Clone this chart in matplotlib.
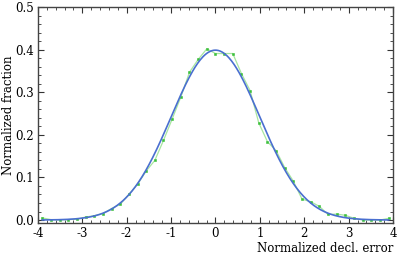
import numpy as np
import matplotlib
matplotlib.use("Agg")
import matplotlib.pyplot as plt
from matplotlib.ticker import MultipleLocator, FuncFormatter

# Bin centers (normalized decl. error)
bin_centers = [-3.902, -3.707, -3.512, -3.317, -3.122, -2.927, -2.732, -2.537, -2.341,
               -2.146, -1.951, -1.756, -1.561, -1.366, -1.171, -0.976, -0.780, -0.585,
               -0.390, -0.195, 0.000, 0.195, 0.390, 0.585, 0.780, 0.976, 1.171, 1.366,
               1.561, 1.756, 1.951, 2.146, 2.341, 2.537, 2.732, 2.927, 3.122, 3.317,
               3.512, 3.707, 3.902]
# Normalized fraction per bin (histogram)
fractions = [0.005, 0.001, 0.000, 0.001, 0.002, 0.007, 0.010, 0.015, 0.027,
             0.037, 0.060, 0.084, 0.115, 0.140, 0.187, 0.237, 0.289, 0.347,
             0.377, 0.402, 0.391, 0.391, 0.391, 0.344, 0.304, 0.228, 0.184, 0.163,
             0.123, 0.091, 0.049, 0.043, 0.032, 0.013, 0.014, 0.011, 0.004, 0.000,
             0.000, 0.000, 0.004]
# Gaussian model parameters
gauss_mu = 0.0
gauss_sigma = 1.0

plt.rcParams['font.family'] = ['DejaVu Serif']
plt.rcParams['mathtext.fontset'] = 'dejavuserif'

fig = plt.figure(figsize=(3.99, 2.54), dpi=100)
ax = fig.add_axes([0.095, 0.122, 0.89, 0.850])

xs = np.linspace(bin_centers[0], bin_centers[-1], 400)
ys = np.exp(-0.5 * ((xs - gauss_mu) / gauss_sigma) ** 2) / (gauss_sigma * np.sqrt(2 * np.pi))

ax.plot(bin_centers, fractions, color='#a8e6a0', lw=0.9, zorder=2)
ax.plot(bin_centers, fractions, ls='none', marker='s', ms=1.5, color='#3cc03c',
        mec='#3cc03c', mew=0.4, zorder=3)
ax.plot(xs, ys, color='#4a6fd0', lw=1.2, zorder=4)

ax.set_xlim(-4, 4)
ax.set_ylim(-0.007, 0.5)
ax.xaxis.set_major_locator(MultipleLocator(1))
ax.xaxis.set_minor_locator(MultipleLocator(0.2))
ax.yaxis.set_major_locator(MultipleLocator(0.1))
ax.yaxis.set_minor_locator(MultipleLocator(0.02))
ax.xaxis.set_major_formatter(FuncFormatter(lambda v, p: f"{int(round(v))}"))
ax.yaxis.set_major_formatter(FuncFormatter(lambda v, p: f"{v:.1f}"))

ax.tick_params(which='both', direction='in', top=True, right=True, colors='#333333',
               labelcolor='black', labelsize=8.5, pad=3)
ax.tick_params(which='major', length=4, width=0.8)
ax.tick_params(which='minor', length=2, width=0.6)
for s in ax.spines.values():
    s.set_color('#444444')
    s.set_linewidth(1.0)

ax.set_xlabel('Normalized decl. error', fontsize=8.5, loc='right', labelpad=1)
ax.set_ylabel('Normalized fraction', fontsize=8.5, va='center')
ax.yaxis.set_label_coords(-0.083, 0.5)

fig.savefig('out.png', dpi=100)
